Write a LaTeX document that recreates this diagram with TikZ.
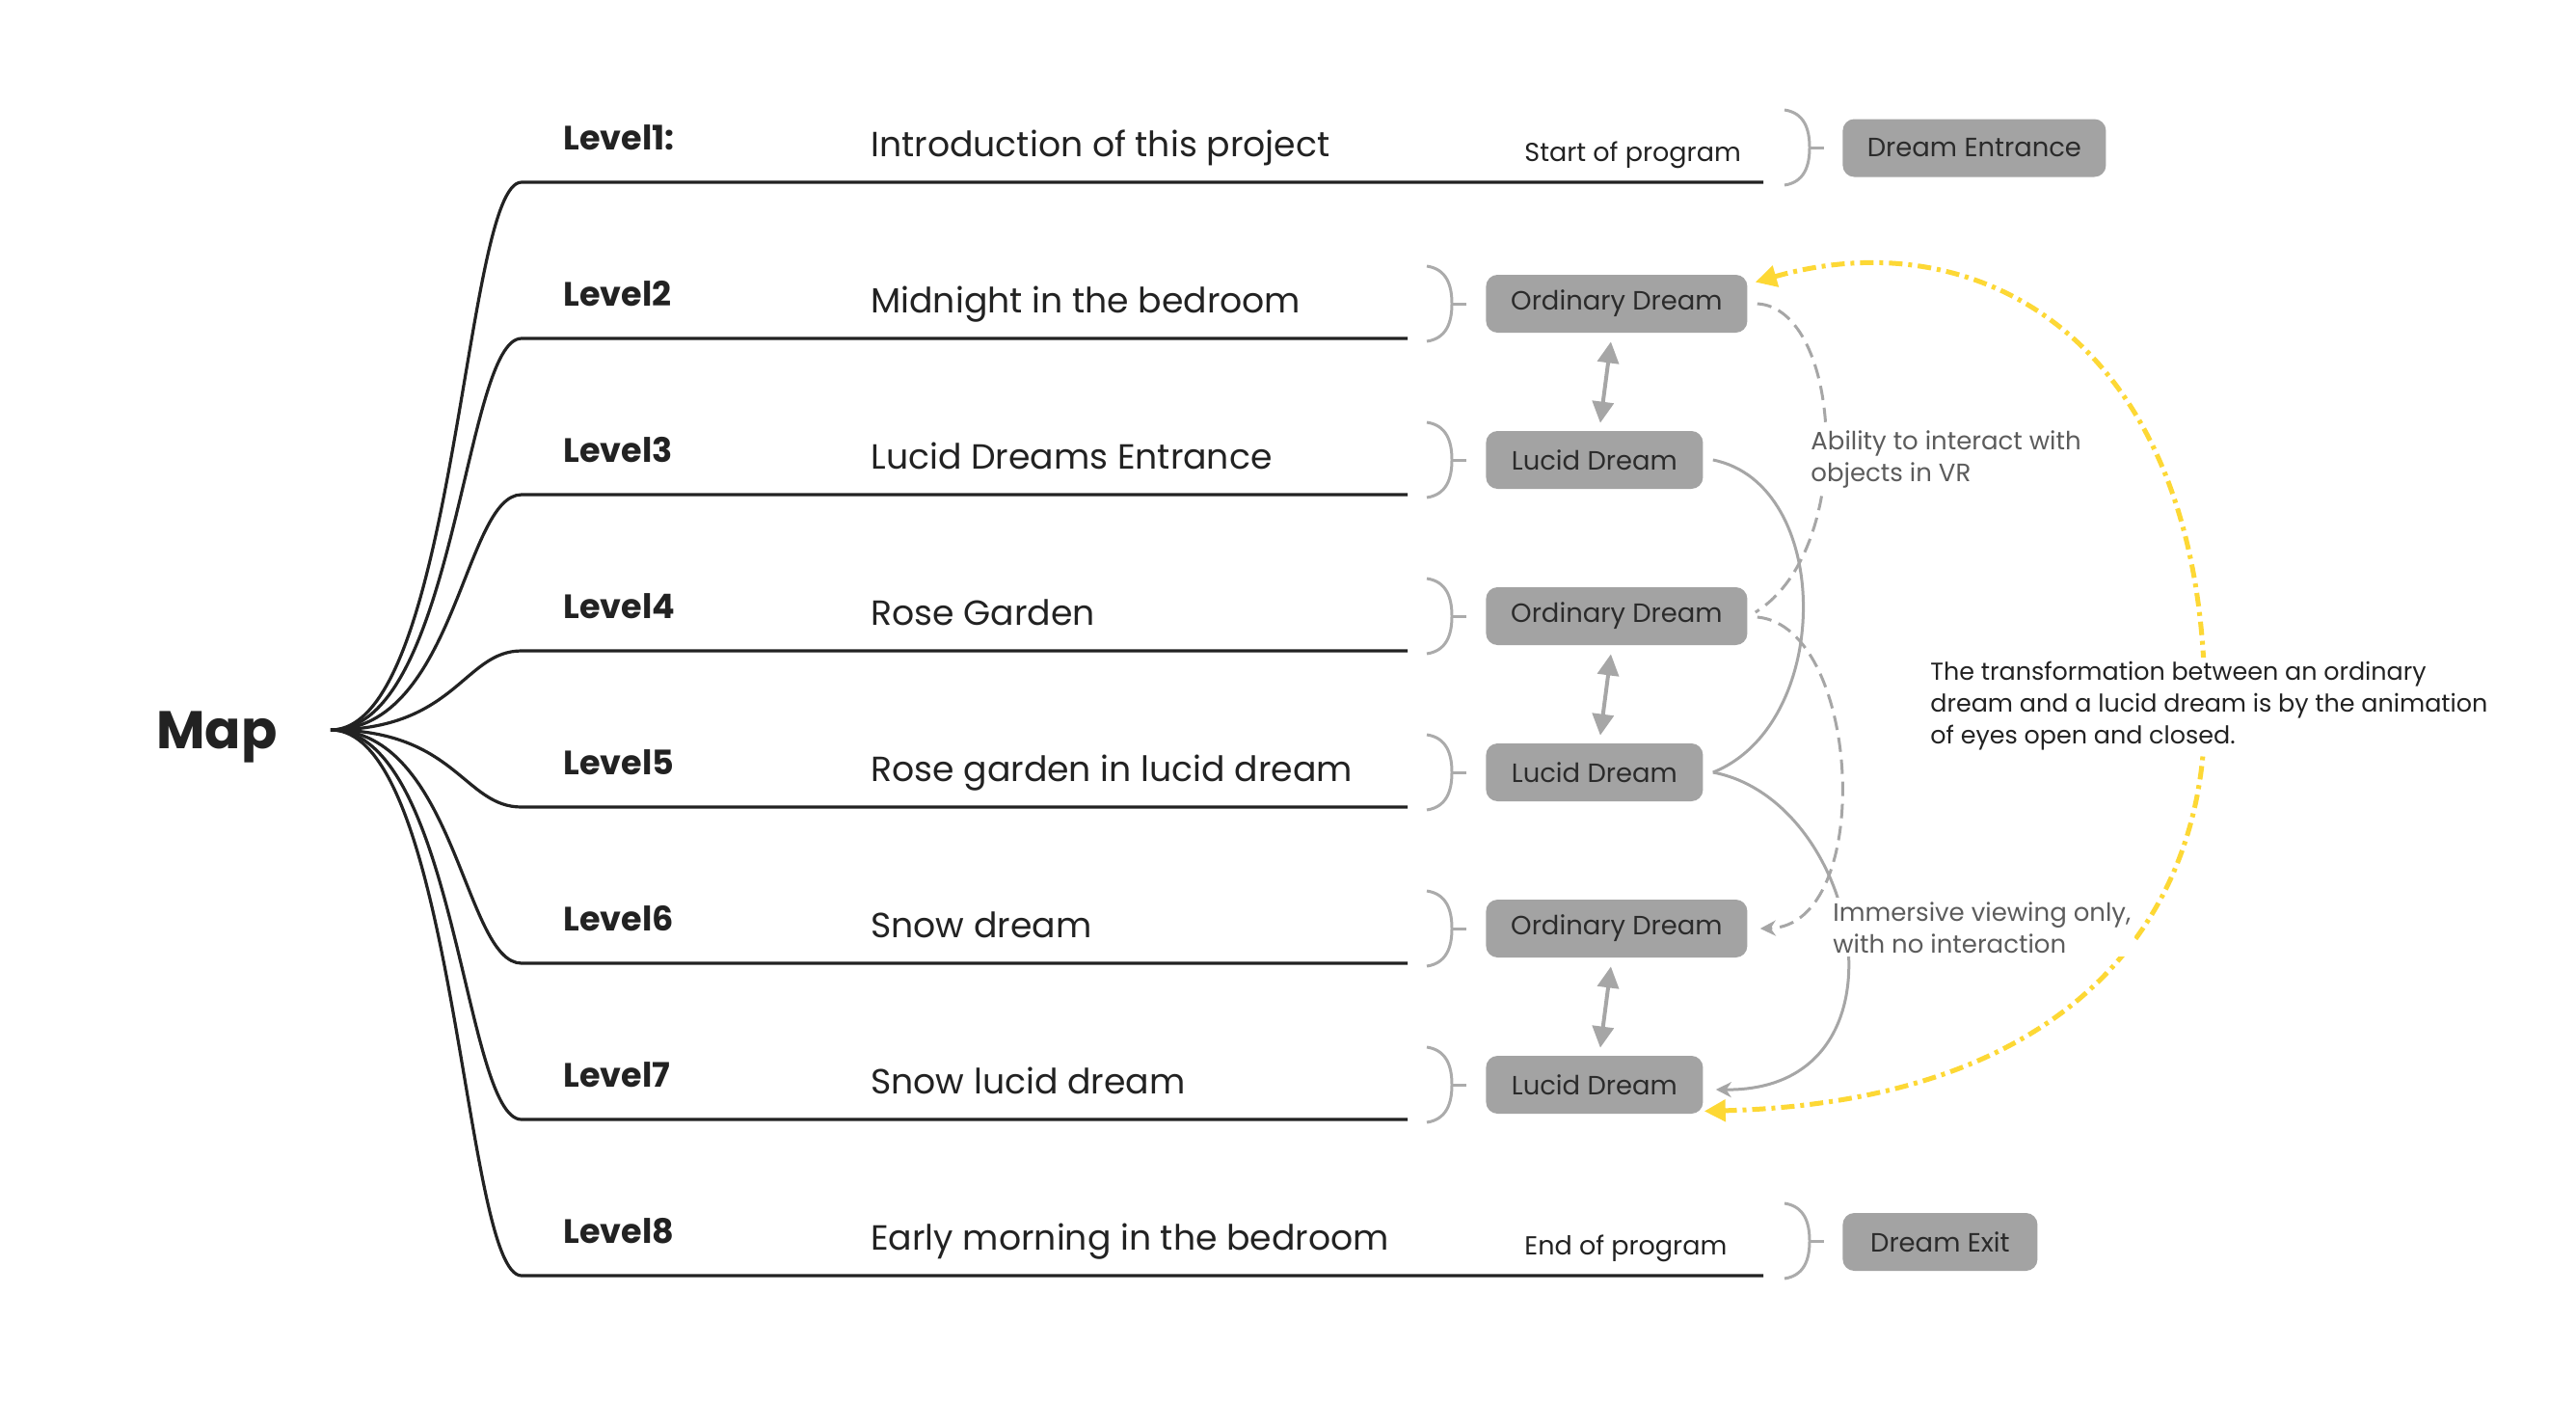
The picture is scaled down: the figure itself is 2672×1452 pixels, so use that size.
\documentclass[tikz,border=0pt]{standalone}
\usepackage{fontspec}
\setmainfont{Poppins}
\usetikzlibrary{arrows.meta,calc}
\definecolor{ink}{HTML}{222222}
\definecolor{boxgrey}{HTML}{A3A3A3}
\definecolor{boxtext}{HTML}{2B2B2B}
\definecolor{brk}{HTML}{ABABAB}
\definecolor{conn}{HTML}{A6A6A6}
\definecolor{notegrey}{HTML}{5C5C5C}
\definecolor{dreamyellow}{HTML}{FDD835}
\begin{document}
\begin{tikzpicture}[x=0.5pt,y=-0.5pt,
  branch/.style={draw=ink, line width=1.6pt, line join=round},
  lvl/.style={anchor=base west, inner sep=0pt, font=\fontsize{17.5}{20}\selectfont\bfseries, text=ink},
  desc/.style={anchor=base west, inner sep=0pt, font=\fontsize{18.1}{22}\selectfont, text=ink},
  prog/.style={anchor=base west, inner sep=0pt, font=\fontsize{13.5}{16}\selectfont, text=ink},
  dreambox/.style={anchor=west, fill=boxgrey, rounded corners=6pt, minimum height=30pt, inner sep=0pt, font=\fontsize{13.7}{16}\selectfont, text=boxtext},
  bracestyle/.style={draw=brk, line width=1.5pt},
  brk/.pic={\draw[bracestyle] (0,-39) .. controls (20,-36) and (26,-20) .. (26,0) .. controls (26,20) and (20,36) .. (0,39);
            \draw[bracestyle] (26,0) -- (41,0);},
  dbl/.style={draw=conn, line width=2pt, {Triangle[length=11pt,width=11pt]}-{Triangle[length=11pt,width=11pt]}},
  dashconn/.style={draw=conn, line width=1.5pt, dash pattern=on 7.5pt off 4pt},
  solidconn/.style={draw=conn, line width=1.5pt},
  smalltip/.style={-{Stealth[length=8pt,width=8pt]}},
  yel/.style={draw=dreamyellow, line width=2.5pt, dash pattern=on 7pt off 3pt on 2pt off 3pt,
     {Triangle[length=11pt,width=11pt]}-{Triangle[length=11pt,width=11pt]}},
  note/.style={align=left, anchor=base west, fill=white, inner sep=2pt, font=\fontsize{13}{16.5}\selectfont, text=notegrey},
  blacknote/.style={note, text=ink, font=\fontsize{12.7}{16.5}\selectfont}
]
\useasboundingbox (0,0) rectangle (2672,1452);
\fill[white] (0,0) rectangle (2672,1452);

\node[anchor=base west, inner sep=0pt, font=\fontsize{27.5}{33}\selectfont\bfseries, text=ink] (map) at (162,776) {Map};
\coordinate (root) at (343,757);

\foreach \i/\lab/\txt/\e in {1/Level1:/Introduction of this project/1829,
  2/Level2/Midnight in the bedroom/1460,
  3/Level3/Lucid Dreams Entrance/1460,
  4/Level4/Rose Garden/1460,
  5/Level5/Rose garden in lucid dream/1460,
  6/Level6/Snow dream/1460,
  7/Level7/Snow lucid dream/1460,
  8/Level8/Early morning in the bedroom/1829}{
  \pgfmathsetmacro\yy{189+162*(\i-1)}
  \coordinate (s\i) at (541,\yy);
  \coordinate (e\i) at (\e,\yy);
  \draw[branch] (root) .. controls +(130,0) and +(-60,0) .. (s\i) -- (e\i);
  \node[lvl] (lab\i) at (584,\yy-34) {\lab};
  \node[desc] (desc\i) at (903,\yy-26.5) {\txt};
}

% start / end
\node[prog] (start) at (1581,167) {Start of program};
\node[prog] (end) at (1581,1301) {End of program};

% brackets
\pic at (1851,153) {brk};
\pic at (1851,1287) {brk};
\foreach \i in {2,...,7}{
  \pic at (1480,{189+162*(\i-1)-36}) {brk};
}

% boxes
\node[dreambox, minimum width=136.5pt] (entr) at (1911,153.5) {Dream Entrance};
\node[dreambox, minimum width=101pt] (exit) at (1911,1288) {Dream Exit};
\node[dreambox, minimum width=135.5pt] (od2) at (1541,315) {Ordinary Dream};
\node[dreambox, minimum width=112.5pt] (ld3) at (1541,477) {Lucid Dream};
\node[dreambox, minimum width=135.5pt] (od4) at (1541,639) {Ordinary Dream};
\node[dreambox, minimum width=112.5pt] (ld5) at (1541,801) {Lucid Dream};
\node[dreambox, minimum width=135.5pt] (od6) at (1541,963) {Ordinary Dream};
\node[dreambox, minimum width=112.5pt] (ld7) at (1541,1125) {Lucid Dream};

% double arrows
\draw[dbl] ($(od2.south)+(-6,9)$) -- ($(ld3.north)+(6,-8)$);
\draw[dbl] ($(od4.south)+(-6,9)$) -- ($(ld5.north)+(6,-8)$);
\draw[dbl] ($(od6.south)+(-6,9)$) -- ($(ld7.north)+(6,-8)$);

% grey connectors
\draw[dashconn] ($(od2.east)+(10,0)$) .. controls +(88,5) and +(105,-65) .. ($(od4.east)+(8,-4)$);
\draw[dashconn, smalltip] ($(od4.east)+(10,1)$) .. controls +(108,10) and +(120,-3) .. ($(od6.east)+(13,0)$);
\draw[solidconn] ($(ld3.east)+(10,0)$) .. controls +(125,25) and +(125,-50) .. ($(ld5.east)+(10,0)$);
\draw[solidconn, smalltip] ($(ld5.east)+(10,0)$) .. controls +(154,29) and +(211,2) .. ($(ld7.east)+(13,5)$);

% yellow transformation arc
\coordinate (ycorner) at (2287,740);
\draw[yel] ($(od2.north east)+(8,8)$) .. controls +(238,-68) and +(3,-380) .. (ycorner)
   .. controls +(0,210) and +(382,-10) .. ($(ld7.south east)+(1,-3)$);

% notes (base anchor = baseline of last line)
\node[note] (abil) at (1874,499) {Ability to interact with\\objects in VR};
\node[note] (imm) at (1897,988) {Immersive viewing only,\\with no interaction};
\node[blacknote] (trans) at (1998,771) {The transformation between an ordinary\\dream and a lucid dream is by the animation\\of eyes open and closed.};
\end{tikzpicture}
\end{document}
